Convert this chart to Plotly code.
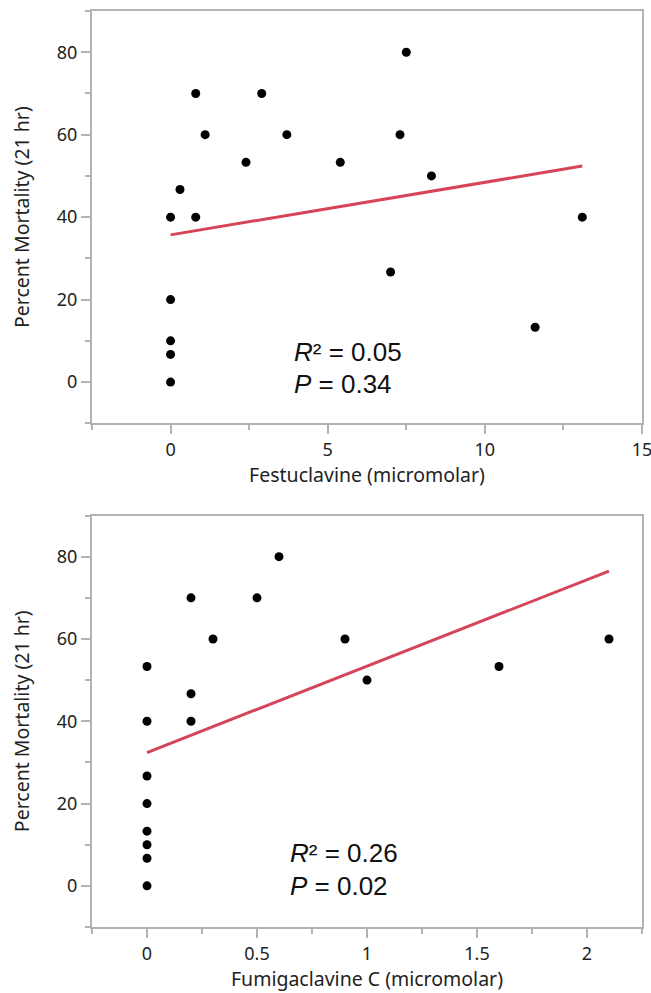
import plotly.graph_objects as go

# ---- Data: Festuclavine panel ----
fest_x = [0, 0, 0, 0, 0, 0.3, 0.8, 0.8, 1.1, 2.4, 2.9, 3.7, 5.4, 7.0, 7.3, 7.5, 8.3, 11.6, 13.1]
fest_y = [40, 20, 10, 6.7, 0, 46.7, 70, 40, 60, 53.3, 70, 60, 53.3, 26.7, 60, 80, 50, 13.3, 40]
fest_fit_x = [0, 13.1]
fest_fit_y = [35.7, 52.4]
fest_r2 = "0.05"
fest_p = "0.34"

# ---- Data: Fumigaclavine C panel ----
fumi_x = [0, 0, 0, 0, 0, 0, 0, 0, 0.2, 0.2, 0.2, 0.3, 0.5, 0.6, 0.9, 1.0, 1.6, 2.1]
fumi_y = [53.3, 40, 26.7, 20, 13.3, 10, 6.7, 0, 70, 46.7, 40, 60, 70, 80, 60, 50, 53.3, 60]
fumi_fit_x = [0, 2.1]
fumi_fit_y = [32.4, 76.5]
fumi_r2 = "0.26"
fumi_p = "0.02"

y_ticks = [0, 20, 40, 60, 80]

AXIS_COL = "#b3b3b3"
LINE_COL = "#d6445a"
TICK_FONT = dict(family="Noto Sans, Open Sans, sans-serif", size=18, color="#222222")
TITLE_FONT = dict(family="Noto Sans, Open Sans, sans-serif", size=19.5, color="#222222")
ANN_FONT = dict(family="Liberation Sans, Arial, sans-serif", size=26, color="#111111")

fig = go.Figure()

fig.add_trace(go.Scatter(x=fest_fit_x, y=fest_fit_y, mode="lines",
                         line=dict(color=LINE_COL, width=3), xaxis="x", yaxis="y",
                         showlegend=False, hoverinfo="skip"))
fig.add_trace(go.Scatter(x=fest_x, y=fest_y, mode="markers",
                         marker=dict(color="black", size=9), xaxis="x", yaxis="y",
                         showlegend=False))
fig.add_trace(go.Scatter(x=fumi_fit_x, y=fumi_fit_y, mode="lines",
                         line=dict(color=LINE_COL, width=3), xaxis="x2", yaxis="y2",
                         showlegend=False, hoverinfo="skip"))
fig.add_trace(go.Scatter(x=fumi_x, y=fumi_y, mode="markers",
                         marker=dict(color="black", size=9), xaxis="x2", yaxis="y2",
                         showlegend=False))


def xaxis_cfg(rng, dtick, minor_dtick, title, anchor):
    return dict(range=rng, tick0=0, dtick=dtick, showgrid=False, zeroline=False,
                automargin=False, ticklabeloverflow="allow",
                showline=True, linecolor=AXIS_COL, linewidth=2, mirror=True,
                ticks="outside", ticklen=9, tickwidth=2, tickcolor=AXIS_COL,
                minor=dict(dtick=minor_dtick, tick0=0, ticks="outside", ticklen=5,
                           tickwidth=2, tickcolor=AXIS_COL, showgrid=False),
                tickfont=TICK_FONT, anchor=anchor,
                title=dict(text=title, font=TITLE_FONT, standoff=8))


def yaxis_cfg(domain, anchor):
    return dict(range=[-10, 90], tickvals=y_ticks, showgrid=False, zeroline=False,
                automargin=False, domain=domain, anchor=anchor,
                showline=True, linecolor=AXIS_COL, linewidth=2, mirror=True,
                ticks="outside", ticklen=9, tickwidth=2, tickcolor=AXIS_COL,
                minor=dict(dtick=10, tick0=0, ticks="outside", ticklen=5,
                           tickwidth=2, tickcolor=AXIS_COL, showgrid=False),
                tickfont=TICK_FONT,
                title=dict(text="Percent Mortality (21 hr)", font=TITLE_FONT, standoff=22))


fig.update_layout(
    width=651, height=993,
    margin=dict(l=92, r=9, t=11, b=66),
    plot_bgcolor="white", paper_bgcolor="white",
    xaxis=xaxis_cfg([-2.5, 15], 5, 2.5, "Festuclavine (micromolar)", "y"),
    yaxis=yaxis_cfg([0.5499, 1.0], "x"),
    xaxis2=xaxis_cfg([-0.25, 2.25], 0.5, 0.25, "Fumigaclavine C (micromolar)", "y2"),
    yaxis2=yaxis_cfg([0.0, 0.4492], "x2"),
    showlegend=False,
)

annotations = [
    dict(x=3.87, y=7.4, xref="x", yref="y", text="<i>R</i>² = " + fest_r2),
    dict(x=3.87, y=-0.4, xref="x", yref="y", text="<i>P</i> = " + fest_p),
    dict(x=0.64, y=7.9, xref="x2", yref="y2", text="<i>R</i>² = " + fumi_r2),
    dict(x=0.64, y=-0.1, xref="x2", yref="y2", text="<i>P</i> = " + fumi_p),
]
for a in annotations:
    a.update(xanchor="left", yanchor="middle", showarrow=False, font=ANN_FONT)
fig.update_layout(annotations=annotations)

fig.write_html("out.html",
               config={"displayModeBar": False},
               post_script="document.body.style.margin='0';document.body.style.overflow='hidden';")
